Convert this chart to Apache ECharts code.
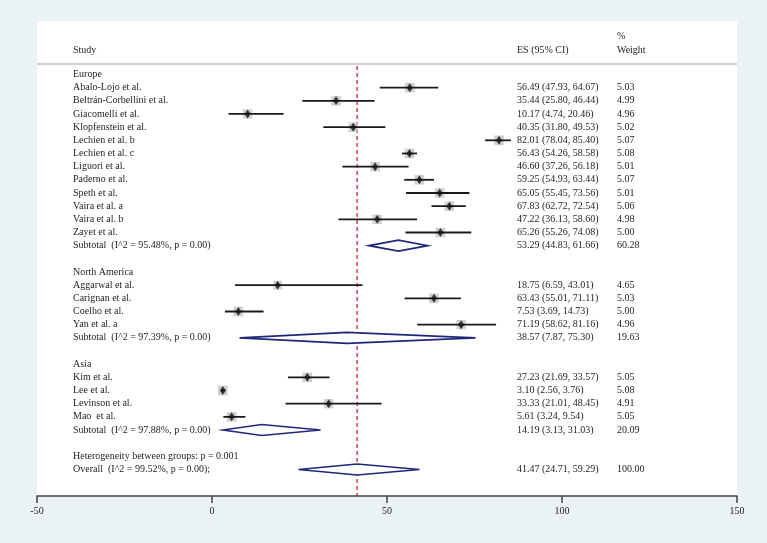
<!DOCTYPE html>
<html>
<head>
<meta charset="utf-8">
<script src="https://cdn.jsdelivr.net/npm/echarts@6/dist/echarts.min.js"></script>
<style>
html,body{margin:0;padding:0;background:#eaf2f6;}
#chart{width:767px;height:543px;}
</style>
</head>
<body>
<div id="chart"></div>
<script>
// ---------- data ----------
const groups = ['Europe', 'North America', 'Asia'];
const studies = ['Abalo-Lojo et al.', 'Beltrán-Corbellini et al.', 'Giacomelli et al.', 'Klopfenstein et al.',
  'Lechien et al. b', 'Lechien et al. c', 'Liguori et al.', 'Paderno et al.', 'Speth et al.', 'Vaira et al. a',
  'Vaira et al. b', 'Zayet et al.', 'Aggarwal et al.', 'Carignan et al.', 'Coelho et al.', 'Yan et al. a',
  'Kim et al.', 'Lee et al.', 'Levinson et al.', 'Mao  et al.'];
const studyGroup = [0,0,0,0,0,0,0,0,0,0,0,0,1,1,1,1,2,2,2,2];
const es =    [56.49,35.44,10.17,40.35,82.01,56.43,46.60,59.25,65.05,67.83,47.22,65.26,18.75,63.43,7.53,71.19,27.23,3.10,33.33,5.61];
const lower = [47.93,25.80,4.74,31.80,78.04,54.26,37.26,54.93,55.45,62.72,36.13,55.26,6.59,55.01,3.69,58.62,21.69,2.56,21.01,3.24];
const upper = [64.67,46.44,20.46,49.53,85.40,58.58,56.18,63.44,73.56,72.54,58.60,74.08,43.01,71.11,14.73,81.16,33.57,3.76,48.45,9.54];
const weight = [5.03,4.99,4.96,5.02,5.07,5.08,5.01,5.07,5.01,5.06,4.98,5.00,4.65,5.03,5.00,4.96,5.05,5.08,4.91,5.05];
const subI2 = ['95.48%', '97.39%', '97.88%'];
const subES = [53.29, 38.57, 14.19];
const subLo = [44.83, 7.87, 3.13];
const subHi = [61.66, 75.30, 31.03];
const subW = [60.28, 19.63, 20.09];
const overallES = 41.47, overallLo = 24.71, overallHi = 59.29, overallW = 100.00, overallI2 = '99.52%';
const heterogeneityP = '0.001';
const xTicks = [-50, 0, 50, 100, 150];

// ---------- build rows ----------
const fmtCI = (e, l, h) => e.toFixed(2) + ' (' + l.toFixed(2) + ', ' + h.toFixed(2) + ')';
const textRows = [];   // {row, a, b, c}
const studyPts = [];   // [es, row, weight, lo, hi]
const diamonds = [];   // [es, row, lo, hi]
let r = 0;
groups.forEach((g, gi) => {
  textRows.push({row: r, a: g, b: '', c: ''}); r++;
  studies.forEach((s, i) => {
    if (studyGroup[i] !== gi) return;
    textRows.push({row: r, a: s, b: fmtCI(es[i], lower[i], upper[i]), c: weight[i].toFixed(2)});
    studyPts.push([es[i], r, weight[i], lower[i], upper[i]]);
    r++;
  });
  textRows.push({row: r, a: 'Subtotal  (I^2 = ' + subI2[gi] + ', p = 0.00)', b: fmtCI(subES[gi], subLo[gi], subHi[gi]), c: subW[gi].toFixed(2)});
  diamonds.push([subES[gi], r, subLo[gi], subHi[gi]]);
  r++;
  r++; // blank
});
textRows.push({row: r, a: 'Heterogeneity between groups: p = ' + heterogeneityP, b: '', c: ''}); r++;
textRows.push({row: r, a: 'Overall  (I^2 = ' + overallI2 + ', p = 0.00);', b: fmtCI(overallES, overallLo, overallHi), c: overallW.toFixed(2)});
diamonds.push([overallES, r, overallLo, overallHi]);

const HEADER_ROW = -1.86, PCT_ROW = -2.92, RULE_ROW = -0.8;
const YMIN = -4.06, YMAX = 32.01;

const FONT = '10px "Liberation Serif", "Times New Roman", serif';
const TXT = '#1e1e1e';
const colX = [73, 517, 617];

const chart = echarts.init(document.getElementById('chart'), null, {renderer: 'canvas'});
chart.setOption({
  backgroundColor: '#eaf2f6',
  animation: false,
  grid: {left: 37, right: 30, top: 21, bottom: 47, show: true, backgroundColor: '#ffffff', borderWidth: 0},
  xAxis: {
    type: 'value', position: 'bottom', min: xTicks[0], max: xTicks[xTicks.length - 1], interval: 50,
    axisLine: {show: true, onZero: false, lineStyle: {color: '#444', width: 1.5}},
    axisTick: {show: true, inside: false, length: 7, lineStyle: {color: '#444', width: 1.5}},
    axisLabel: {color: '#222', fontFamily: 'Liberation Serif', fontSize: 10, margin: 10},
    splitLine: {show: false}
  },
  yAxis: {type: 'value', inverse: true, min: YMIN, max: YMAX, show: false},
  series: [
    // header rule
    {
      type: 'custom', silent: true, z: 1,
      data: [[RULE_ROW]],
      renderItem: (params, api) => {
        const p1 = api.coord([xTicks[0], api.value(0)]);
        const p2 = api.coord([xTicks[xTicks.length - 1], api.value(0)]);
        return {type: 'line', shape: {x1: p1[0], y1: p1[1], x2: p2[0], y2: p2[1]}, style: {stroke: '#cfcfcf', lineWidth: 2}};
      }
    },
    // dashed overall line
    {
      type: 'custom', silent: true, z: 2,
      data: [[overallES, RULE_ROW + 0.15, YMAX]],
      renderItem: (params, api) => {
        const p1 = api.coord([api.value(0), api.value(1)]);
        const p2 = api.coord([api.value(0), api.value(2)]);
        return {type: 'line', shape: {x1: p1[0], y1: p1[1], x2: p2[0], y2: p2[1]}, style: {stroke: '#c8102e', lineWidth: 1.2, lineDash: [4, 3]}};
      }
    },
    // weight squares
    {
      type: 'scatter', silent: true, z: 3,
      symbol: 'rect',
      symbolSize: v => v[2] * 1.9,
      itemStyle: {color: '#c4c4c4'},
      data: studyPts.map(d => [d[0], d[1], d[2]])
    },
    // CI lines
    {
      type: 'custom', silent: true, z: 4,
      data: studyPts.map(d => [d[3], d[4], d[1]]),
      renderItem: (params, api) => {
        const p1 = api.coord([api.value(0), api.value(2)]);
        const p2 = api.coord([api.value(1), api.value(2)]);
        return {type: 'line', shape: {x1: p1[0], y1: p1[1], x2: p2[0], y2: p2[1]}, style: {stroke: '#1a1a1a', lineWidth: 1.8}};
      }
    },
    // point estimates
    {
      type: 'scatter', silent: true, z: 5,
      symbol: 'diamond', symbolSize: [6, 9],
      itemStyle: {color: '#111'},
      data: studyPts.map(d => [d[0], d[1]])
    },
    // pooled diamonds
    {
      type: 'custom', silent: true, z: 6,
      data: diamonds,
      renderItem: (params, api) => {
        const c = api.coord([api.value(0), api.value(1)]);
        const l = api.coord([api.value(2), api.value(1)]);
        const h = api.coord([api.value(3), api.value(1)]);
        const hh = 5.5;
        return {type: 'polygon', shape: {points: [[l[0], c[1]], [c[0], c[1] - hh], [h[0], c[1]], [c[0], c[1] + hh]]},
          style: {fill: '#ffffff', stroke: '#1f2778', lineWidth: 1.6}};
      }
    },
    // table text
    {
      type: 'custom', silent: true, z: 7,
      data: textRows.map(t => [t.row]),
      renderItem: (params, api) => {
        const t = textRows[params.dataIndex];
        const y = api.coord([0, api.value(0)])[1];
        const kids = [t.a, t.b, t.c].map((s, k) => ({
          type: 'text', x: colX[k], y: y,
          style: {text: s, font: FONT, fill: TXT, verticalAlign: 'middle', align: 'left'}
        }));
        return {type: 'group', children: kids};
      }
    },
    // header text
    {
      type: 'custom', silent: true, z: 7,
      data: [[HEADER_ROW, 0, 0], [HEADER_ROW, 1, 0], [HEADER_ROW, 2, 0], [PCT_ROW, 2, 1]],
      renderItem: (params, api) => {
        const labels = [['Study', ''], ['ES (95% CI)', ''], ['Weight', '%']];
        const y = api.coord([0, api.value(0)])[1];
        const k = api.value(1), w = api.value(2);
        return {type: 'text', x: colX[k], y: y,
          style: {text: labels[k][w], font: FONT, fill: TXT, verticalAlign: 'middle', align: 'left'}};
      }
    }
  ]
});
</script>
</body>
</html>
